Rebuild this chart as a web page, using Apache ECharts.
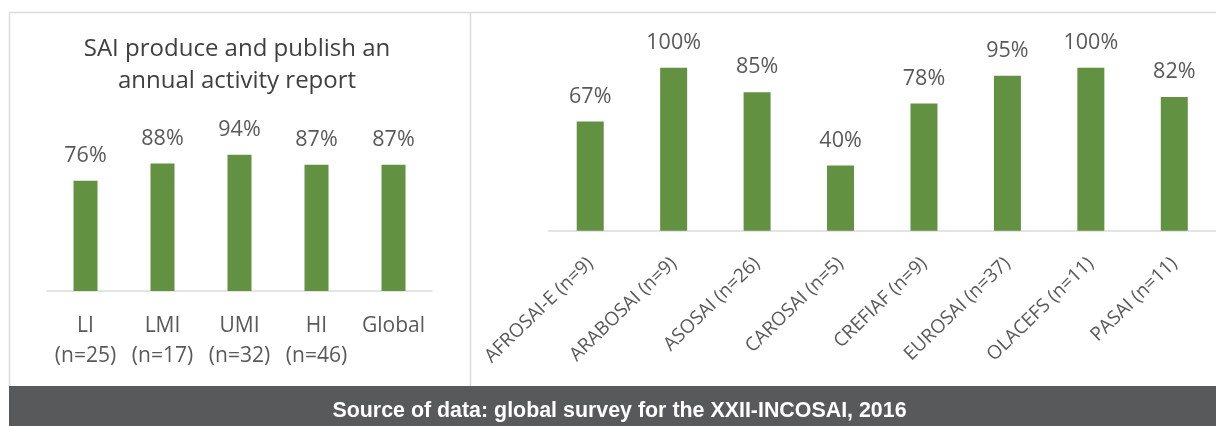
<!DOCTYPE html>
<html>
<head>
<meta charset="utf-8">
<script src="https://cdn.jsdelivr.net/npm/echarts@6/dist/echarts.min.js"></script>
<style>
html,body{margin:0;padding:0;background:#fff;}
#c{width:1216px;height:426px;}
</style>
</head>
<body>
<div id="c"></div>
<script>
// ---- data ----
const titleText = 'SAI produce and publish an\nannual activity report';
const incomeCategories = ['LI\n(n=25)', 'LMI\n(n=17)', 'UMI\n(n=32)', 'HI\n(n=46)', 'Global'];
const incomeValues = [76, 88, 94, 87, 87];
const regionCategories = ['AFROSAI-E (n=9)', 'ARABOSAI (n=9)', 'ASOSAI (n=26)', 'CAROSAI (n=5)', 'CREFIAF (n=9)', 'EUROSAI (n=37)', 'OLACEFS (n=11)', 'PASAI (n=11)'];
const regionValues = [67, 100, 85, 40, 78, 95, 100, 82];
const sourceText = 'Source of data: global survey for the XXII-INCOSAI, 2016';

const FONT = '"Open Sans", Lato, sans-serif';
const BAR = '#629142';
const LABEL = '#595959';
const BORDER = '#dcdcdc';

const chart = echarts.init(document.getElementById('c'), null, {renderer: 'canvas'});
chart.setOption({
  animation: false,
  backgroundColor: '#ffffff',
  title: {
    text: titleText,
    left: 232,
    top: 28,
    textAlign: 'center',
    textStyle: {fontFamily: FONT, fontSize: 24, fontWeight: 'normal', color: '#404040', lineHeight: 32}
  },
  grid: [
    {left: 47, width: 385, top: 146, height: 145, containLabel: false},
    {left: 548.5, width: 682, top: 67.7, height: 163, containLabel: false}
  ],
  xAxis: [
    {
      type: 'category', gridIndex: 0, data: incomeCategories,
      axisLine: {lineStyle: {color: BORDER, width: 1.5}},
      axisTick: {show: false},
      axisLabel: {interval: 0, margin: 20, fontFamily: FONT, fontSize: 21, color: LABEL, lineHeight: 30}
    },
    {
      type: 'category', gridIndex: 1, data: regionCategories,
      axisLine: {lineStyle: {color: BORDER, width: 1.5}},
      axisTick: {show: false},
      axisLabel: {interval: 0, rotate: 44, margin: 30, fontFamily: FONT, fontSize: 19, color: LABEL, hideOverlap: false}
    }
  ],
  yAxis: [
    {type: 'value', gridIndex: 0, min: 0, max: 100, show: false, splitLine: {show: false}},
    {type: 'value', gridIndex: 1, min: 0, max: 100, show: false, splitLine: {show: false}}
  ],
  series: [
    {
      type: 'bar', xAxisIndex: 0, yAxisIndex: 0, data: incomeValues, barWidth: 24,
      itemStyle: {color: BAR},
      label: {show: true, position: 'top', distance: 14, formatter: '{c}%', fontFamily: FONT, fontSize: 21.5, color: LABEL, lineHeight: 22}
    },
    {
      type: 'bar', xAxisIndex: 1, yAxisIndex: 1, data: regionValues, barWidth: 27,
      itemStyle: {color: BAR},
      label: {show: true, position: 'top', distance: 14, formatter: '{c}%', fontFamily: FONT, fontSize: 21.5, color: LABEL, lineHeight: 22}
    }
  ],
  graphic: [
    {type: 'line', shape: {x1: 9, y1: 12.5, x2: 1216, y2: 12.5}, style: {stroke: BORDER, lineWidth: 1.5}, silent: true},
    {type: 'line', shape: {x1: 9.5, y1: 12, x2: 9.5, y2: 386}, style: {stroke: BORDER, lineWidth: 1.5}, silent: true},
    {type: 'line', shape: {x1: 470.5, y1: 12, x2: 470.5, y2: 386}, style: {stroke: BORDER, lineWidth: 1.5}, silent: true},
    {type: 'rect', shape: {x: 9, y: 386, width: 1207, height: 40}, style: {fill: '#58595b'}, silent: true},
    {type: 'text', x: 619.5, y: 411.5, style: {text: sourceText, fill: '#ffffff', font: 'bold 21.4px "Liberation Sans", Arial, sans-serif', textAlign: 'center', textVerticalAlign: 'middle'}, silent: true}
  ]
});
</script>
</body>
</html>
